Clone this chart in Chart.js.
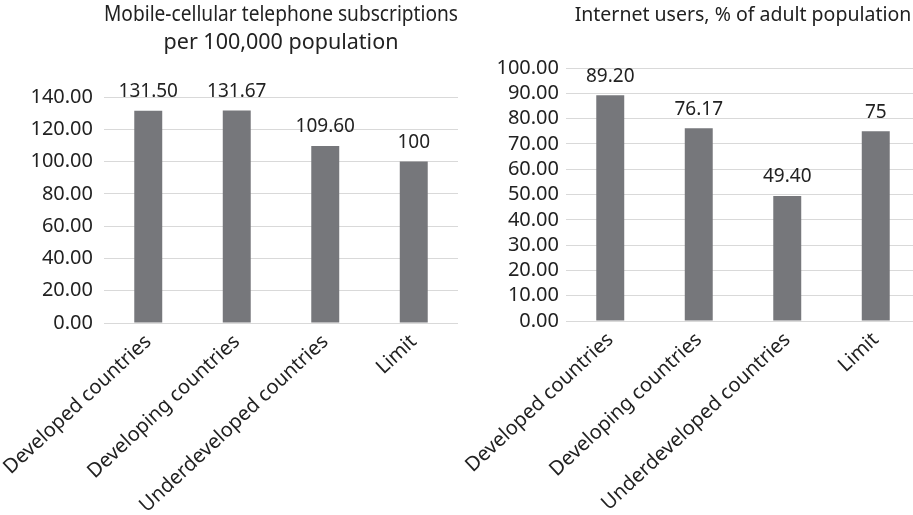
<!DOCTYPE html>
<html>
<head>
<meta charset="utf-8">
<script src="https://cdn.jsdelivr.net/npm/chart.js@4.4.1/dist/chart.umd.min.js"></script>
<style>
  html, body { margin: 0; padding: 0; background: #fff; overflow: hidden; }
  body { width: 913px; height: 515px; position: relative; }
  .box { position: absolute; top: 0; height: 515px; }
  #leftBox { left: 0; width: 470px; }
  #rightBox { left: 460px; width: 465px; }
</style>
</head>
<body>
<div class="box" id="leftBox"><canvas id="mobile"></canvas></div>
<div class="box" id="rightBox"><canvas id="internet"></canvas></div>
<script>
// Shared categories
const categories = ["Developed countries", "Developing countries", "Underdeveloped countries", "Limit"];

// Mobile-cellular subscriptions per 100,000 population
const mobileValues = [131.50, 131.67, 109.60, 100];
const mobileDecimals = [2, 2, 2, 0];
const mobileTitle = ["Mobile-cellular telephone subscriptions", "per 100,000 population"];
const mobileAxis = { max: 140, step: 20 };

// Internet users, % of adult population
const internetValues = [89.20, 76.17, 49.40, 75];
const internetDecimals = [2, 2, 2, 0];
const internetTitle = ["Internet users, % of adult population"];
const internetAxis = { max: 100, step: 10 };

const FONT = "'Noto Sans', 'Open Sans', sans-serif";
const TEXT = "#222222";
const GRID = "#d9d9d9";
const BAR = "#76777b";

// Writes each bar's value just above it
const valueLabels = {
  id: "valueLabels",
  afterDatasetsDraw(chart, args, opts) {
    const ctx = chart.ctx;
    const meta = chart.getDatasetMeta(0);
    const ds = chart.data.datasets[0];
    ctx.save();
    ctx.font = "19px " + FONT;
    ctx.fillStyle = TEXT;
    ctx.textAlign = "center";
    ctx.textBaseline = "middle";
    meta.data.forEach((bar, i) => {
      const txt = ds.data[i].toFixed(opts.decimals[i]);
      ctx.fillText(txt, bar.x, bar.y - 19);
    });
    ctx.restore();
  }
};

function makeChart(id, values, decimals, title, axis, cfg) {
  return new Chart(document.getElementById(id), {
    type: "bar",
    data: {
      labels: categories,
      datasets: [{
        data: values,
        backgroundColor: BAR,
        borderWidth: 0,
        barPercentage: 0.316,
        categoryPercentage: 1
      }]
    },
    plugins: [valueLabels],
    options: {
      responsive: true,
      maintainAspectRatio: false,
      animation: false,
      layout: { padding: { top: 0, left: 0, right: cfg.padRight, bottom: 0 } },
      plugins: {
        legend: { display: false },
        tooltip: { enabled: false },
        valueLabels: { decimals: decimals },
        title: {
          display: true,
          text: title,
          fullSize: false,
          color: TEXT,
          font: { family: FONT, size: cfg.titleSize, weight: "normal", lineHeight: 28 / cfg.titleSize },
          padding: { top: 1, bottom: cfg.titleGap }
        }
      },
      scales: {
        x: {
          grid: { display: false },
          border: { display: false },
          ticks: {
            color: TEXT,
            font: { family: FONT, size: 20 },
            minRotation: 43,
            maxRotation: 43,
            padding: -1,
            autoSkip: false
          },
          afterFit(scale) {
            scale.height = cfg.xHeight;
            scale.paddingLeft = 0;
            scale.paddingRight = 0;
          }
        },
        y: {
          min: 0,
          max: axis.max,
          border: { display: false },
          grid: { color: GRID, lineWidth: 1, drawTicks: false },
          ticks: {
            stepSize: axis.step,
            autoSkip: false,
            color: TEXT,
            font: { family: FONT, size: 20 },
            padding: cfg.tickPad,
            callback: v => Number(v).toFixed(2)
          },
          afterFit(scale) { scale.width = cfg.yWidth; }
        }
      }
    }
  });
}

makeChart("mobile", mobileValues, mobileDecimals, mobileTitle, mobileAxis,
  { padRight: 12, titleSize: 21.5, titleGap: 40, xHeight: 192, yWidth: 104, tickPad: 11 });
makeChart("internet", internetValues, internetDecimals, internetTitle, internetAxis,
  { padRight: 5, titleSize: 19.5, titleGap: 39, xHeight: 194, yWidth: 106, tickPad: 7 });
</script>
</body>
</html>
